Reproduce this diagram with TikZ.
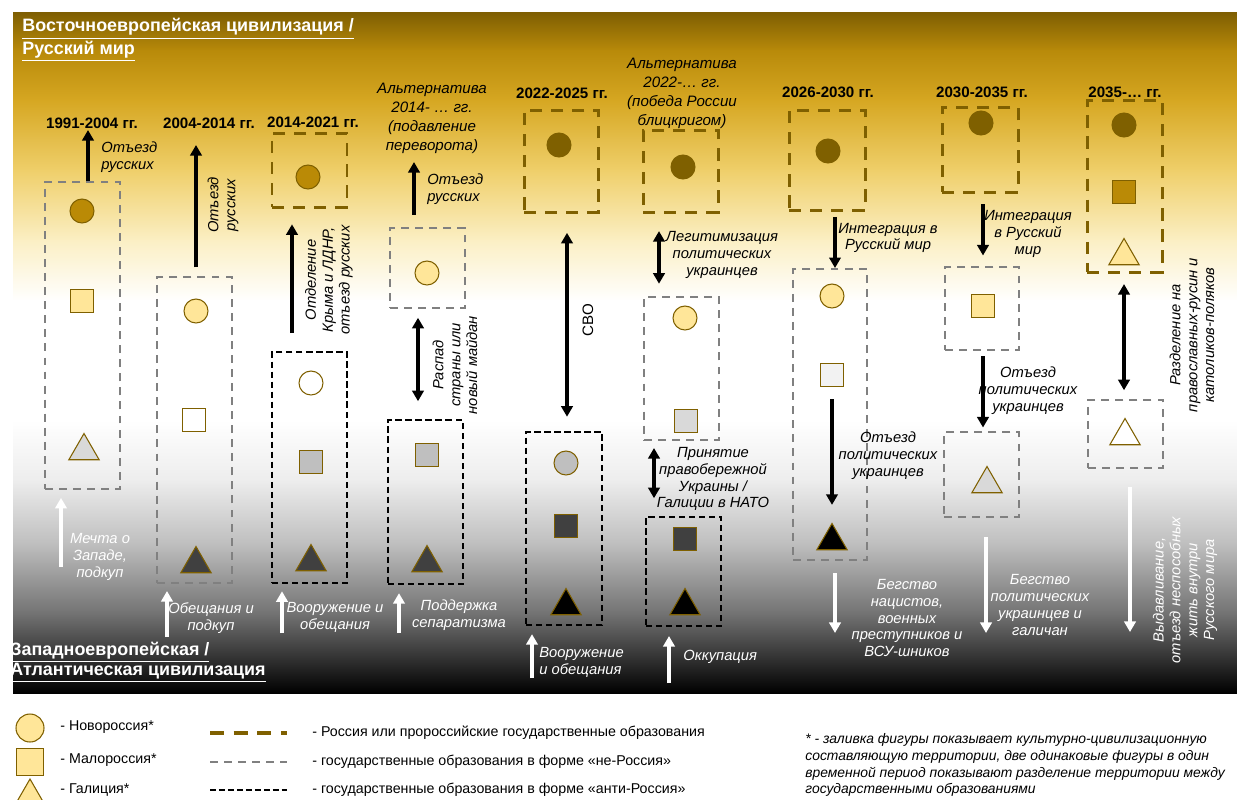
\documentclass[tikz,border=0pt]{standalone}
\usepackage{fontspec}
\setmainfont{Liberation Sans}
\usetikzlibrary{arrows.meta}
\usetikzlibrary{fit}
\usetikzlibrary{shapes.geometric}

\definecolor{rudark}{HTML}{7F6000}
\definecolor{rugold}{HTML}{BA8A06}
\definecolor{malo}{HTML}{FFE699}
\definecolor{galgray}{HTML}{D9D9D9}
\definecolor{midgray}{HTML}{BFBFBF}
\definecolor{antigray}{HTML}{404040}
\definecolor{palegray}{HTML}{F2F2F2}
\definecolor{boxgray}{HTML}{808080}
% background bands
\definecolor{bga}{HTML}{7E5E02}
\definecolor{bgb}{HTML}{B88A0A}
\definecolor{bgc}{HTML}{D6A722}
\definecolor{bgd}{HTML}{EFCF6A}
\definecolor{bge}{HTML}{FBEFC4}
\definecolor{bgf}{HTML}{FFFFFF}
\definecolor{bgg}{HTML}{EDEDED}
\definecolor{bgh}{HTML}{BDBDBD}
\definecolor{bgi}{HTML}{707070}
\definecolor{bgj}{HTML}{000000}

\tikzset{
  fig/.style={draw=rudark, line width=0.6pt, inner sep=0pt},
  nr/.style={fig, circle, minimum size=0.48cm},
  ml/.style={fig, rectangle, minimum size=0.46cm},
  gl/.style={fig, regular polygon, regular polygon sides=3, minimum size=0.7cm},
  rubox/.style={draw=rudark, line width=1.7pt, dash pattern=on 7pt off 5pt, inner sep=0pt},
  nebox/.style={draw=boxgray, line width=1.1pt, dash pattern=on 4.5pt off 3.5pt, inner sep=0pt},
  antibox/.style={draw=black, line width=1.4pt, dash pattern=on 3.5pt off 2.2pt, inner sep=0pt},
  period/.style={font=\fontsize{8.6}{10}\selectfont\bfseries, inner sep=0pt},
  lbl/.style={font=\fontsize{8.4}{9.6}\selectfont\itshape, align=center, inner sep=0pt},
  alt/.style={lbl, font=\fontsize{8.6}{10.8}\selectfont\itshape},
  wlbl/.style={lbl, white},
  civ/.style={white, font=\fontsize{10.2}{11.4}\selectfont\bfseries, align=left, inner sep=0pt},
  blk/.style={line width=2.1pt, -{Triangle[length=6pt,width=6.5pt]}},
  blkboth/.style={line width=2.1pt, {Triangle[length=6pt,width=6.5pt]}-{Triangle[length=6pt,width=6.5pt]}},
  wht/.style={white, line width=2.1pt, -{Triangle[length=6pt,width=6.5pt]}},
  legtext/.style={font=\fontsize{8.1}{9.6}\selectfont, inner sep=0pt, anchor=west},
}

\begin{document}
\begin{tikzpicture}[x=0.02cm, y=-0.02cm]
    \useasboundingbox (0,0) rectangle (1237,799);
    % background
    \foreach \ya/\yb/\ca/\cb in {12/50/bga/bgb, 50/100/bgb/bgc, 100/170/bgc/bgd, 170/240/bgd/bge,
        240/300/bge/bgf, 300/420/bgf/bgf, 420/480/bgf/bgg, 480/545/bgg/bgh, 545/615/bgh/bgi, 615/692/bgi/bgj}
        \shade[top color=\ca, bottom color=\cb] (13,\ya) rectangle (1237,\yb+1);
    \node[civ, anchor=west] (east) at (22,40) {\underline{Восточноевропейская цивилизация /}\\\underline{Русский мир}};
    \node[civ, anchor=west] (west) at (10,662) {\underline{Западноевропейская /}\\\underline{Атлантическая цивилизация}};

    % 1991-2004
    \node[period] (p1) at (92,123) {1991-2004 гг.};
    \node[nebox, fit={(45,182) (120,489)}] (b1) {};
    \node[nr, fill=rugold] (c1) at (82,211) {};
    \node[ml, fill=malo] (s1) at (82,301) {};
    \node[gl, fill=galgray] (g1) at (84,451) {};
    \coordinate (t1) at (88,130);
    \draw[blk] (b1.north -| t1) -- (t1);
    \node[lbl, anchor=west, align=left] (l1) at (101,157) {Отъезд\\русских};
    \coordinate (w1) at (61,567);
    \draw[wht, shorten >=4.5pt] (w1) -- (b1.south -| w1);
    \node[wlbl] (m1) at (100,557) {Мечта о\\Западе,\\подкуп};

    % 2004-2014
    \node[period] (p2) at (209,123) {2004-2014 гг.};
    \node[nebox, fit={(157,277) (232,583)}] (b2) {};
    \node[nr, fill=malo] (c2) at (196,311) {};
    \node[ml, fill=white] (s2) at (194,420) {};
    \node[gl, fill=antigray] (g2) at (196,564) {};
    \coordinate (t2) at (196,145);
    \draw[blk, shorten <=5pt] (b2.north -| t2) -- (t2);
    \node[lbl, rotate=90] (l2) at (223,205) {Отъезд\\русских};
    \coordinate (w2) at (167,637);
    \draw[wht, shorten >=4pt] (w2) -- (b2.south -| w2);
    \node[wlbl] (m2) at (211,618) {Обещания и\\подкуп};

    % 2014-2021
    \node[period] (p3) at (313,122) {2014-2021 гг.};
    \node[rubox, fit={(272,133) (347,207)}] (b3a) {};
    \node[nr, fill=rugold] (c3a) at (308,177) {};
    \node[antibox, fit={(272,352) (347,583)}] (b3b) {};
    \node[nr, fill=white] (c3b) at (311,383) {};
    \node[ml, fill=midgray] (s3) at (311,462) {};
    \node[gl, fill=antigray] (g3) at (311,562) {};
    \coordinate (t3) at (292,280);
    \draw[blk, shorten <=10pt, shorten >=9pt] (b3b.north -| t3) -- (b3a.south -| t3);
    \node[lbl, rotate=90] (l3) at (329,280) {Отделение\\Крыма и ЛДНР,\\отъезд русских};
    \coordinate (w3) at (282,633);
    \draw[wht, shorten >=4pt] (w3) -- (b3b.south -| w3);
    \node[wlbl] (m3) at (335,617) {Вооружение и\\обещания};

    % alternative 2014
    \node[alt] (p4) at (432,118) {Альтернатива\\2014- … гг.\\(подавление\\переворота)};
    \node[nebox, fit={(390,228) (465,308)}] (b4a) {};
    \node[nr, fill=malo] (c4) at (427,273) {};
    \node[antibox, fit={(388,420) (463,584)}] (b4b) {};
    \node[ml, fill=midgray] (s4) at (427,455) {};
    \node[gl, fill=antigray] (g4) at (427,563) {};
    \coordinate (t4) at (414,162);
    \draw[blk, shorten <=7pt] (b4a.north -| t4) -- (t4);
    \node[lbl, anchor=west, align=left] (l4a) at (427,189) {Отъезд\\русских};
    \coordinate (d4) at (418,360);
    \draw[blkboth, shorten <=5pt, shorten >=10pt] (b4a.south -| d4) -- (b4b.north -| d4);
    \node[lbl, rotate=90] (l4b) at (455,365) {Распад\\страны или\\новый майдан};
    \coordinate (w4) at (399,633);
    \draw[wht, shorten >=4.5pt] (w4) -- (b4b.south -| w4);
    \node[wlbl] (m4) at (459,615) {Поддержка\\сепаратизма};

    % 2022-2025
    \node[period] (p5) at (562,93) {2022-2025 гг.};
    \node[rubox, fit={(524,110) (598,212)}] (b5a) {};
    \node[nr, fill=rudark] (c5a) at (559,145) {};
    \node[antibox, fit={(526,432) (602,625)}] (b5b) {};
    \node[nr, fill=midgray] (c5b) at (566,463) {};
    \node[ml, fill=antigray] (s5) at (566,526) {};
    \node[gl, fill=black] (g5) at (566,606) {};
    \coordinate (d5) at (567,320);
    \draw[blkboth, shorten <=11pt, shorten >=8pt] (b5a.south -| d5) -- (b5b.north -| d5);
    \node[rotate=90, font=\fontsize{8.6}{10}\selectfont, inner sep=0pt] (l5) at (588,320) {СВО};
    \coordinate (w5) at (532,678);
    \draw[wht, shorten >=4.5pt] (w5) -- (b5b.south -| w5);
    \node[wlbl, anchor=west, align=left] (m5) at (539,662) {Вооружение\\и обещания};

    % alternative 2022
    \node[alt] (p6) at (682,93) {Альтернатива\\2022-… гг.\\(победа России\\блицкригом)};
    \node[rubox, fit={(643,130) (718,212)}] (b6a) {};
    \node[nr, fill=rudark] (c6a) at (683,167) {};
    \node[nebox, fit={(644,297) (719,440)}] (b6b) {};
    \node[nr, fill=malo] (c6b) at (685,318) {};
    \node[ml, fill=galgray] (s6b) at (686,421) {};
    \node[antibox, fit={(646,517) (721,626)}] (b6c) {};
    \node[ml, fill=antigray] (s6c) at (685,539) {};
    \node[gl, fill=black] (g6) at (685,606) {};
    \coordinate (d6a) at (659,260);
    \draw[blkboth, shorten <=10pt, shorten >=7pt] (b6a.south -| d6a) -- (b6b.north -| d6a);
    \node[lbl] (l6a) at (722,255) {Легитимизация\\политических\\украинцев};
    \coordinate (d6b) at (654,470);
    \draw[blkboth, shorten <=4pt, shorten >=10pt] (b6b.south -| d6b) -- (b6c.north -| d6b);
    \node[lbl] (l6b) at (713,479) {Принятие\\правобережной\\Украины /\\Галиции в НАТО};
    \coordinate (w6) at (669,683);
    \draw[wht, shorten >=5pt] (w6) -- (b6c.south -| w6);
    \node[wlbl, anchor=west] (m6) at (683,657) {Оккупация};

    % 2026-2030
    \node[period] (p7) at (828,92) {2026-2030 гг.};
    \node[rubox, fit={(789,110) (865,210)}] (b7a) {};
    \node[nr, fill=rudark] (c7a) at (828,151) {};
    \node[nebox, fit={(793,269) (867,560)}] (b7b) {};
    \node[nr, fill=malo] (c7b) at (832,296) {};
    \node[ml, fill=palegray] (s7) at (832,375) {};
    \node[gl, fill=black] (g7) at (832,541) {};
    \coordinate (d7) at (835,240);
    \draw[blk, shorten <=3pt] (b7a.south -| d7) -- (b7b.north -| d7);
    \node[lbl] (l7a) at (888,238) {Интеграция в\\Русский мир};
    \draw[blk, shorten <=7pt, shorten >=10pt] (s7.south) -- (g7.north);
    \node[lbl] (l7b) at (888,456) {Отъезд\\политических\\украинцев};
    \coordinate (w7) at (835,633);
    \draw[wht, shorten <=7pt] (b7b.south -| w7) -- (w7);
    \node[wlbl] (m7) at (907,618) {Бегство\\нацистов,\\военных\\преступников и\\ВСУ-шников};

    % 2030-2035
    \node[period] (p8) at (982,92) {2030-2035 гг.};
    \node[rubox, fit={(942,107) (1018,192)}] (b8a) {};
    \node[nr, fill=rudark] (c8) at (981,123) {};
    \node[nebox, fit={(945,267) (1019,350)}] (b8b) {};
    \node[ml, fill=malo] (s8) at (983,306) {};
    \node[nebox, fit={(944,432) (1019,517)}] (b8c) {};
    \node[gl, fill=galgray] (g8) at (987,484) {};
    \coordinate (d8) at (983,300);
    \draw[blk, shorten <=6pt, shorten >=6pt] (b8a.south -| d8) -- (b8b.north -| d8);
    \node[lbl] (l8a) at (1028,234) {Интеграция\\в Русский\\мир};
    \draw[blk, shorten <=3pt, shorten >=2pt] (b8b.south -| d8) -- (b8c.north -| d8);
    \node[lbl] (l8b) at (1028,391) {Отъезд\\политических\\украинцев};
    \coordinate (w8) at (986,633);
    \draw[wht, shorten <=11pt] (b8c.south -| w8) -- (w8);
    \node[wlbl] (m8) at (1040,605) {Бегство\\политических\\украинцев и\\галичан};

    % 2035-...
    \node[period] (p9) at (1125,92) {2035-… гг.};
    \node[rubox, fit={(1087,100) (1162,272)}] (b9a) {};
    \node[nr, fill=rudark] (c9) at (1124,125) {};
    \node[ml, fill=rugold] (s9) at (1124,192) {};
    \node[gl, fill=malo] (g9a) at (1124,256) {};
    \node[nebox, fit={(1088,400) (1163,468)}] (b9b) {};
    \node[gl, fill=white] (g9b) at (1125,436) {};
    \coordinate (d9) at (1124,335);
    \draw[blkboth, shorten <=6pt, shorten >=5pt] (b9a.south -| d9) -- (b9b.north -| d9);
    \node[lbl, rotate=90] (l9) at (1192,335) {Разделение на\\православных-русин и\\католиков-поляков};
    \coordinate (w9) at (1130,632);
    \draw[wht, shorten <=10pt] (b9b.south -| w9) -- (w9);
    \node[wlbl, rotate=90] (m9) at (1185,590) {Выдавливание,\\отъезд неспособных\\жить внутри\\Русского мира};

    % legend
    \node[nr, fill=malo, minimum size=0.56cm] (lg1) at (30,728) {};
    \node[ml, fill=malo, minimum size=0.54cm] (lg2) at (30,762) {};
    \node[gl, fill=malo, minimum size=0.8cm] (lg3) at (30,799) {};
    \node[legtext] (lt1) at (60,727) {- Новороссия*};
    \node[legtext] (lt2) at (60,760) {- Малороссия*};
    \node[legtext] (lt3) at (60,790) {- Галиция*};
    \draw[rubox, line width=2.2pt, dash pattern=on 8pt off 5.5pt] (210,733) -- (287,733);
    \draw[nebox, dash pattern=on 4.5pt off 3.5pt] (210,762) -- (287,762);
    \draw[antibox, dash pattern=on 3.5pt off 1.6pt] (210,790) -- (287,790);
    \node[legtext] (lt4) at (312,733) {- Россия или пророссийские государственные образования};
    \node[legtext] (lt5) at (312,762) {- государственные образования в форме «не-Россия»};
    \node[legtext] (lt6) at (312,790) {- государственные образования в форме «анти-Россия»};
    \node[legtext, font=\fontsize{7.9}{9.6}\selectfont\itshape, align=left] (lt7) at (805,765)
        {* - заливка фигуры показывает культурно-цивилизационную\\составляющую территории, две одинаковые фигуры в один\\временной период показывают разделение территории между\\государственными образованиями};
\end{tikzpicture}
\end{document}
